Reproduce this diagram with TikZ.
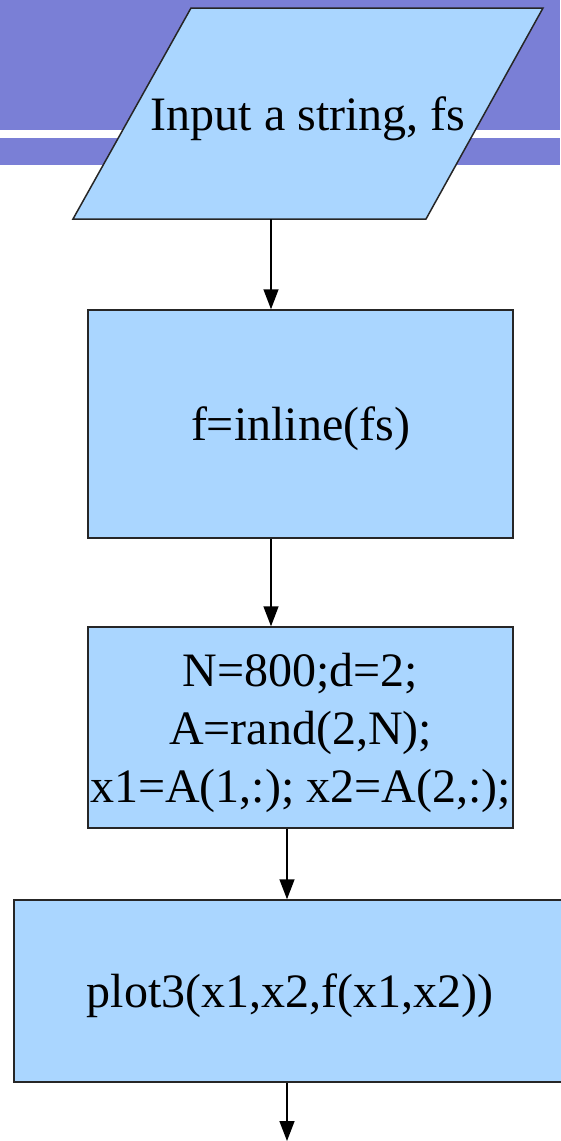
\documentclass[tikz,border=0pt]{standalone}
\usepackage{fontspec}
\setmainfont{Liberation Serif}
\usetikzlibrary{arrows.meta}
\definecolor{bandblue}{RGB}{122,127,214}
\definecolor{boxblue}{RGB}{170,214,255}
\tikzset{
  boxtext/.style={inner sep=0pt, text depth=0pt, align=center,
    font=\fontsize{48}{58}\selectfont},
  procbox/.style={boxtext, draw=black!85, line width=1.5pt, fill=boxblue},
  flowarrow/.style={line width=1.5pt, -{Triangle[length=20pt,width=15pt]}},
}
\begin{document}
\begin{tikzpicture}[x=1pt,y=-1pt]
    \fill[white] (0,0) rectangle (560,1141);
    \useasboundingbox (0,0) rectangle (560,1141);
    % header bands
    \fill[bandblue] (0,0) rectangle (560,130);
    \fill[bandblue] (0,138) rectangle (560,165);
    % input parallelogram
    \filldraw[procbox] (73,219) -- (426,219) -- (543,8) -- (191,8) -- cycle;
    \node[boxtext, minimum width=352pt, minimum height=211pt] (input) at (308,113.5) {Input a string, fs};
    % process boxes
    \node[procbox, minimum width=425pt, minimum height=228pt] (assign) at (300.5,424) {f=inline(fs)};
    \node[procbox, minimum width=425pt, minimum height=201pt] (init) at (300.5,727.5)
      {N=800;d=2;\\A=rand(2,N);\\x1=A(1,:); x2=A(2,:);};
    \node[procbox, minimum width=552pt, minimum height=182pt] (plot) at (290,991) {plot3(x1,x2,f(x1,x2))};
    \coordinate (next) at (287,1141);
    % arrows
    \draw[flowarrow] ([xshift=-37pt]input.south) -- ([xshift=-29.5pt]assign.north);
    \draw[flowarrow] ([xshift=-29.5pt]assign.south) -- ([xshift=-29.5pt]init.north);
    \draw[flowarrow] ([xshift=-13.5pt]init.south) -- ([xshift=-3pt]plot.north);
    \draw[flowarrow] ([xshift=-3pt]plot.south) -- (next);
\end{tikzpicture}
\end{document}
